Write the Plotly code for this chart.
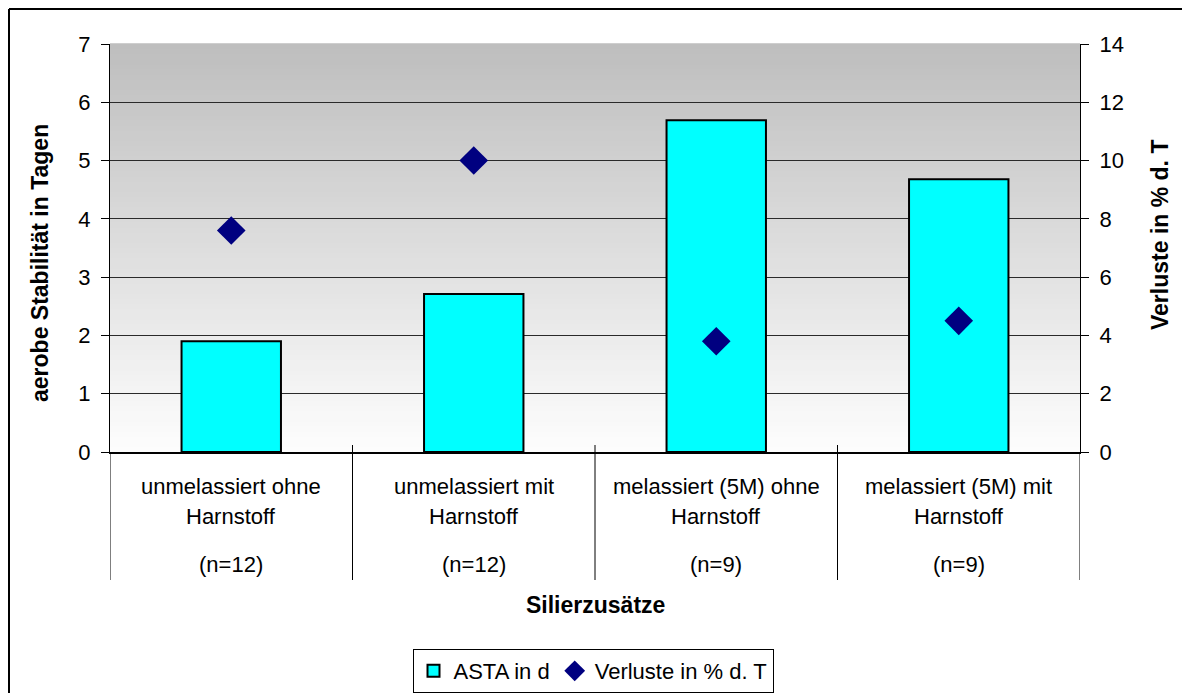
import plotly.graph_objects as go

categories_line1 = ["unmelassiert ohne", "unmelassiert mit", "melassiert (5M) ohne", "melassiert (5M) mit"]
categories_line2 = ["Harnstoff", "Harnstoff", "Harnstoff", "Harnstoff"]
sample_sizes = ["(n=12)", "(n=12)", "(n=9)", "(n=9)"]
asta_days = [1.9, 2.71, 5.69, 4.68]
losses_pct = [7.6, 10.0, 3.8, 4.5]

cats = [f"{a} {b} {n}" for a, b, n in zip(categories_line1, categories_line2, sample_sizes)]

FONT = "Liberation Sans, Arial, sans-serif"

# the page has an 8px body margin; figure runs from (8,8) to the window edge
OFF = 8
W, H = 1190 - OFF, 693 - OFF
PL, PR, PT, PB = 110, 1080, 44, 452   # plot area in page pixels
L = PL - OFF
T = PT - OFF
R = W - L - (PR - PL)
B = H - T - (PB - PT)
pw, ph = PR - PL, PB - PT


def px_x(x):
    return (x - PL) / pw


def px_y(y):
    return (PB - y) / ph


fig = go.Figure()
fig.add_trace(go.Bar(
    x=cats, y=asta_days, name="ASTA in d", width=0.41,
    marker=dict(color="#00FFFF", line=dict(color="black", width=2)),
    yaxis="y",
))
fig.add_trace(go.Scatter(
    x=cats, y=losses_pct, name="Verluste in % d. T", mode="markers",
    marker=dict(symbol="diamond", size=22, color="#000080"),
    yaxis="y2",
))

shapes = []
# gradient background: top darker grey, bottom near white
N = 80
for i in range(N):
    c = int(254 - (254 - 190) * ((i + 0.5) / N))
    shapes.append(dict(type="rect", xref="paper", yref="paper", x0=0, x1=1,
                       y0=i / N, y1=(i + 1) / N + 0.002, line=dict(width=0),
                       fillcolor=f"rgb({c},{c},{c})", layer="below"))

# category divider lines
for k in range(len(cats) + 1):
    xk = k - 0.5
    y0 = 0.0 if k in (0, len(cats)) else px_y(445)
    shapes.append(dict(type="line", xref="x", yref="paper", x0=xk, x1=xk,
                       y0=y0, y1=px_y(580), line=dict(color="black", width=1)))
# outer frame (top + left visible)
shapes.append(dict(type="line", xref="paper", yref="paper", x0=px_x(9), x1=px_x(1200),
                   y0=px_y(9), y1=px_y(9), line=dict(color="black", width=2)))
shapes.append(dict(type="line", xref="paper", yref="paper", x0=px_x(9), x1=px_x(9),
                   y0=px_y(9), y1=px_y(710), line=dict(color="black", width=2)))

annotations = []
for i in range(len(cats)):
    for txt, yy in ((categories_line1[i], 487), (categories_line2[i], 517), (sample_sizes[i], 564)):
        annotations.append(dict(x=i, y=px_y(yy), xref="x", yref="paper", text=txt,
                                showarrow=False, yanchor="middle",
                                font=dict(family=FONT, size=22, color="black")))
annotations.append(dict(x=0.5, y=px_y(605), xref="paper", yref="paper",
                        text="<b>Silierzusätze</b>", showarrow=False, yanchor="middle",
                        font=dict(family=FONT, size=23, color="black")))
annotations.append(dict(x=px_x(40), y=px_y(263), xref="paper", yref="paper",
                        text="<b>aerobe Stabilität in Tagen</b>", showarrow=False,
                        textangle=-90, xanchor="center", yanchor="middle",
                        font=dict(family=FONT, size=23, color="black")))
annotations.append(dict(x=px_x(1160), y=px_y(235), xref="paper", yref="paper",
                        text="<b>Verluste in % d. T</b>", showarrow=False,
                        textangle=-90, xanchor="center", yanchor="middle",
                        font=dict(family=FONT, size=23, color="black")))

fig.update_layout(
    width=W, height=H,
    margin=dict(l=L, r=R, t=T, b=B, pad=0, autoexpand=False),
    paper_bgcolor="white", plot_bgcolor="rgba(0,0,0,0)",
    font=dict(family=FONT, size=22, color="black"),
    shapes=shapes, annotations=annotations,
    xaxis=dict(showticklabels=False, ticks="", showline=True, linecolor="black",
               linewidth=2, showgrid=False, range=[-0.5, 3.5]),
    yaxis=dict(range=[0, 7], dtick=1, showgrid=True, gridcolor="#2a2a2a", gridwidth=1,
               ticks="outside", ticklen=8, tickcolor="black", showline=True,
               linecolor="black", linewidth=1, zeroline=False,
               tickfont=dict(size=22), ticklabelstandoff=6),
    yaxis2=dict(range=[0, 14], dtick=2, overlaying="y", side="right", showgrid=False,
                ticks="outside", ticklen=8, tickcolor="black", showline=True,
                linecolor="black", linewidth=1, zeroline=False,
                tickfont=dict(size=22), ticklabelstandoff=6),
    legend=dict(orientation="h", x=px_x(593), y=px_y(671), xanchor="center",
                yanchor="middle", bordercolor="black", borderwidth=1,
                font=dict(size=22), itemwidth=30, bgcolor="white"),
    showlegend=True,
)

fig.write_html("out.html", config={"displayModeBar": False})
